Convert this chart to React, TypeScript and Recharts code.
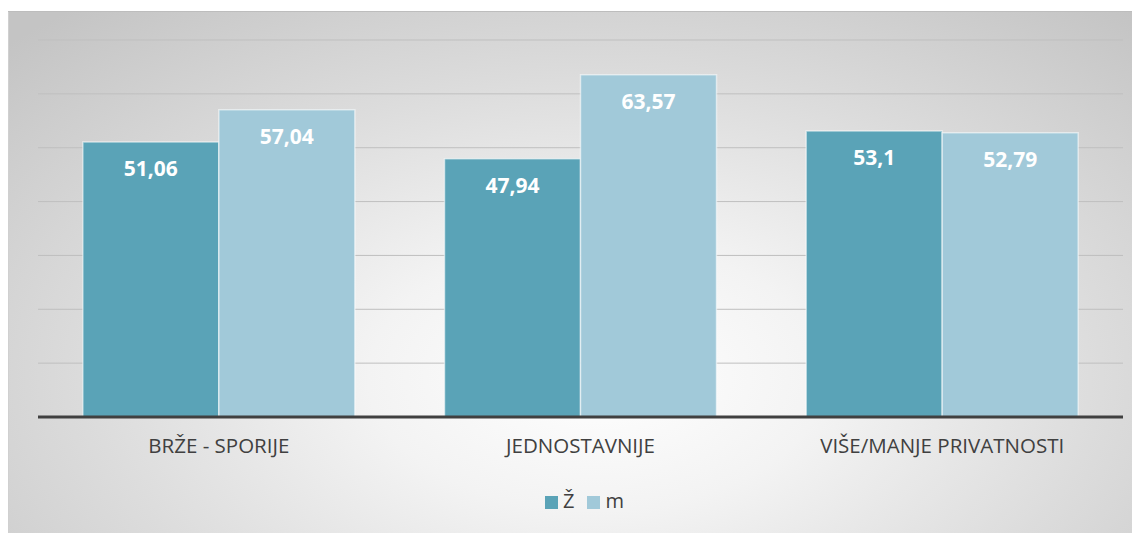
import { BarChart, Bar, XAxis, YAxis, CartesianGrid, Legend, LabelList } from 'recharts';

const categories = ['BRŽE - SPORIJE', 'JEDNOSTAVNIJE', 'VIŠE/MANJE PRIVATNOSTI'];
const zValues = [51.06, 47.94, 53.1];
const mValues = [57.04, 63.57, 52.79];
const yTicks = [0, 10, 20, 30, 40, 50, 60, 70];

const chartData = categories.map((name, i) => ({
  name,
  z: zValues[i],
  m: mValues[i],
}));

const FONT = '"Open Sans", "Noto Sans", sans-serif';
const formatValue = (v: any) => String(v).replace('.', ',');
const legendOrder = ['z', 'm'];

export default function App() {
  return (
    <div
      style={{
        marginTop: 3,
        width: 1132,
        height: 522,
        background: 'radial-gradient(ellipse 72% 92% at 52% 70%, #ffffff 0%, #f3f3f3 28%, #dcdcdc 62%, #c4c4c4 100%)',
        boxShadow: 'inset 0 1px 0 #bdbdbd, inset 1px 0 0 #d0d0d0',
        fontFamily: FONT,
      }}
    >
      <BarChart
        width={1132}
        height={522}
        data={chartData}
        margin={{ top: 29, right: 17, left: 30, bottom: 0 }}
        barCategoryGap="12.4%"
        barGap={0}
      >
        <CartesianGrid vertical={false} stroke="#bfbfbf" strokeWidth={1} />
        <YAxis hide domain={[0, 70]} ticks={yTicks} />
        <XAxis
          dataKey="name"
          height={116}
          tickLine={false}
          tickSize={0}
          tickMargin={21}
          axisLine={{ stroke: '#404040', strokeWidth: 3 }}
          tick={{ fill: '#404040', fontSize: 20.5, fontFamily: FONT }}
        />
        <Legend
          verticalAlign="middle"
          align="center"
          iconType="square"
          iconSize={13}
          itemSorter={(item: any) => legendOrder.indexOf(item.dataKey)}
          wrapperStyle={{ top: 476, left: 17, width: 1132, fontSize: 20, color: '#404040', fontFamily: FONT }}
          formatter={(value: string) => (
            <span style={{ color: '#404040', marginLeft: 1, marginRight: 3 }}>{value}</span>
          )}
        />
        <Bar dataKey="z" name="Ž" fill="#5aa3b7" stroke="rgba(255,255,255,0.55)" strokeWidth={1.5} isAnimationActive={false}>
          <LabelList
            dataKey="z"
            position="insideTop"
            offset={19}
            formatter={formatValue}
            style={{ fill: '#ffffff', fontSize: 21, fontWeight: 700, fontFamily: FONT }}
          />
        </Bar>
        <Bar dataKey="m" name="m" fill="#a1c9d9" stroke="rgba(255,255,255,0.55)" strokeWidth={1.5} isAnimationActive={false}>
          <LabelList
            dataKey="m"
            position="insideTop"
            offset={19}
            formatter={formatValue}
            style={{ fill: '#ffffff', fontSize: 21, fontWeight: 700, fontFamily: FONT }}
          />
        </Bar>
      </BarChart>
    </div>
  );
}
